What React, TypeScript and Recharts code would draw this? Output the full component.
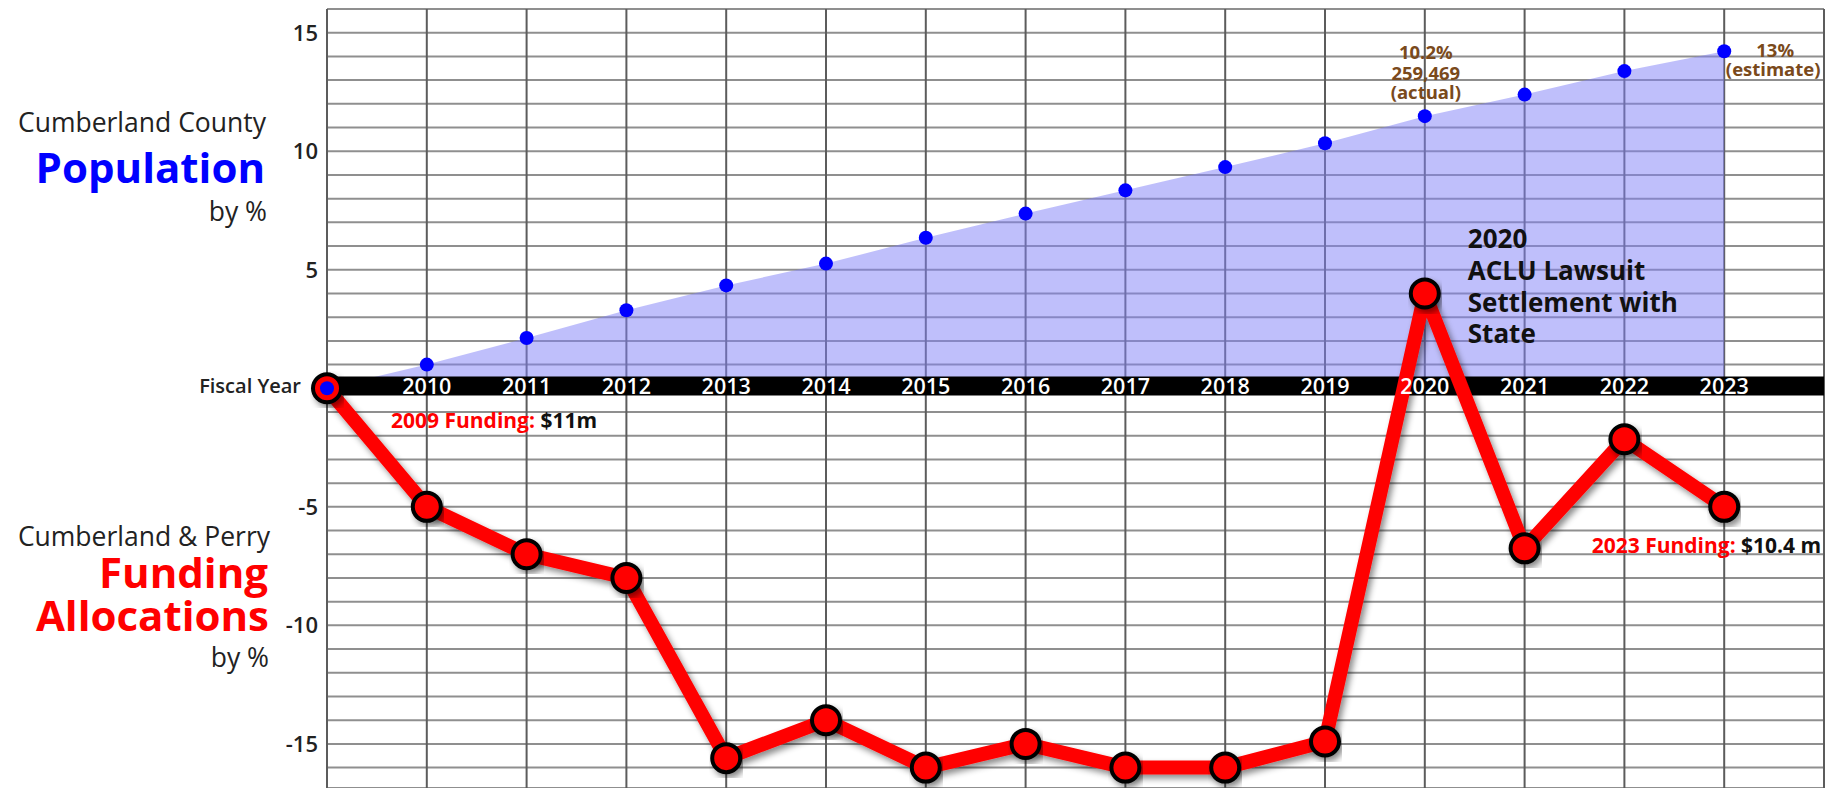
import React from "react";
import {
  Area,
  CartesianGrid,
  ComposedChart,
  Line,
  ReferenceArea,
  ReferenceDot,
  ReferenceLine,
  XAxis,
  YAxis,
} from "recharts";

// values
const years = [2009, 2010, 2011, 2012, 2013, 2014, 2015, 2016, 2017, 2018, 2019, 2020, 2021, 2022, 2023];
const population = [0, 1.0, 2.12, 3.29, 4.34, 5.26, 6.35, 7.37, 8.35, 9.33, 10.34, 11.48, 12.39, 13.38, 14.22];
const funding = [0, -5, -7, -8, -15.6, -14, -16, -15, -16, -16, -14.9, 4, -6.75, -2.15, -5];
const yearLabels = ["Fiscal Year", "2010", "2011", "2012", "2013", "2014", "2015", "2016", "2017", "2018", "2019", "2020", "2021", "2022", "2023"];

const xGridTicks = [2009, 2010, 2011, 2012, 2013, 2014, 2015, 2016, 2017, 2018, 2019, 2020, 2021, 2022, 2023, 2024];
const yGridTicks = [-16, -15, -14, -13, -12, -11, -10, -9, -8, -7, -6, -5, -4, -3, -2, -1, 0, 1, 2, 3, 4, 5, 6, 7, 8, 9, 10, 11, 12, 13, 14, 15];
const yLabelTicks = [-15, -10, -5, 5, 10, 15];

const popActualNote = ["10.2%", "259,469", "(actual)"];
const popEstimateNote = ["13%", "(estimate)"];
const settlementNote = ["2020", "ACLU Lawsuit", "Settlement with", "State"];

const FONT = "'Open Sans', 'Noto Sans', sans-serif";
const BROWN = "#7a4a1c";
const RED = "#ff0000";

const data = years.map((year, i) => ({
  year,
  population: population[i],
  funding: funding[i],
  axis: 0,
  label: yearLabels[i],
}));

const renderYTick = (props: any) => {
  const { x, y, payload } = props;
  if (!yLabelTicks.includes(payload.value)) return <g />;
  return (
    <text x={x} y={y + 8} textAnchor="end" fontFamily={FONT} fontWeight={600} fontSize={22} fill="#222">
      {payload.value}
    </text>
  );
};

const renderYearLabel = (props: any) => {
  const { cx, cy, index, payload } = props;
  if (index === 0) {
    return (
      <text key="fy" x={cx - 26} y={cy + 5} textAnchor="end" fontFamily={FONT} fontWeight={600} fontSize={20} fill="#222">
        {payload.label}
      </text>
    );
  }
  return (
    <text key={payload.year} x={cx} y={cy + 6} textAnchor="middle" fontFamily={FONT} fontWeight={600} fontSize={21.5} fill="#fff">
      {payload.label}
    </text>
  );
};

const noteLines =
  (lines: string[], dx: number, dys: number[], anchor: string, size: number, color: string, dxs?: number[]) =>
  (props: any) => {
    const vb = props.viewBox || {};
    return (
      <g>
        {lines.map((t, i) => (
          <text
            key={t}
            x={vb.x + (dxs ? dxs[i] : dx)}
            y={vb.y + dys[i]}
            textAnchor={anchor as any}
            fontFamily={FONT}
            fontWeight={700}
            fontSize={size}
            fill={color}
          >
            {t}
          </text>
        ))}
      </g>
    );
  };

const fundingNote = (year: string, amount: string, dx: number, dy: number, anchor: string) => (props: any) => {
  const vb = props.viewBox || {};
  return (
    <text x={vb.x + dx} y={vb.y + dy} textAnchor={anchor as any} fontFamily={FONT} fontWeight={700} fontSize={21}>
      <tspan fill={RED}>{year} Funding:</tspan>
      <tspan fill="#111"> {amount}</tspan>
    </text>
  );
};

const titleStyle = { fontFamily: FONT } as const;

export default function App() {
  return (
    <div style={{ position: "fixed", left: 0, top: 0, width: 1837, height: 788, background: "#fff" }}>
      <ComposedChart width={1837} height={788} data={data} margin={{ top: 9, right: 13, bottom: 0, left: 0 }}>
        <defs>
          <filter id="lineShadow" x="-10%" y="-10%" width="120%" height="130%">
            <feDropShadow dx="3" dy="4" stdDeviation="3" floodColor="#000" floodOpacity="0.45" />
          </filter>
        </defs>
        <CartesianGrid vertical={false} stroke="#8f8f8f" strokeWidth={2} />
        <XAxis
          dataKey="year"
          type="number"
          domain={[2009, 2024]}
          ticks={xGridTicks}
          interval={0}
          tick={false}
          tickLine={false}
          axisLine={false}
          height={0}
        />
        <YAxis
          type="number"
          domain={[-16.86, 16]}
          allowDataOverflow
          ticks={yGridTicks}
          interval={0}
          width={327}
          axisLine={false}
          tickLine={false}
          tickMargin={3}
          tick={renderYTick}
        />
        {xGridTicks.map((t) => (
          <ReferenceLine key={t} x={t} stroke="#5c5c5c" strokeWidth={2} ifOverflow="visible" zIndex={50} />
        ))}
        <Area
          type="linear"
          dataKey="population"
          stroke="none"
          fill="#7f7ff7"
          fillOpacity={0.5}
          baseValue={0}
          dot={false}
          activeDot={false}
          isAnimationActive={false}
          zIndex={100}
        />
        <ReferenceArea x1={2009} x2={2024} y1={-0.3} y2={0.5} fill="#000" fillOpacity={1} stroke="none" ifOverflow="visible" zIndex={150} />
        <Line
          dataKey="axis"
          stroke="none"
          dot={renderYearLabel}
          activeDot={false}
          isAnimationActive={false}
          zIndex={160}
        />
        <Line
          type="linear"
          dataKey="funding"
          stroke={RED}
          strokeWidth={14}
          strokeLinejoin="round"
          filter="url(#lineShadow)"
          dot={{ r: 14, fill: RED, stroke: "#000", strokeWidth: 4 }}
          activeDot={false}
          isAnimationActive={false}
          zIndex={400}
        />
        <Line
          dataKey="population"
          stroke="none"
          dot={{ r: 7, fill: "#0000ff", stroke: "none" }}
          activeDot={false}
          isAnimationActive={false}
          zIndex={600}
        />
        <ReferenceDot
          x={years[0]}
          y={funding[0]}
          r={0}
          fill="none"
          stroke="none"
          ifOverflow="visible"
          label={{ content: fundingNote("2009", "$11m", 64, 40, "start") }}
        />
        <ReferenceDot
          x={years[14]}
          y={funding[14]}
          r={0}
          fill="none"
          stroke="none"
          ifOverflow="visible"
          label={{ content: fundingNote("2023", "$10.4 m", 97, 46.5, "end") }}
        />
        <ReferenceDot
          x={years[11]}
          y={population[11]}
          r={0}
          fill="none"
          stroke="none"
          ifOverflow="visible"
          label={{ content: noteLines(popActualNote, 1, [-57.4, -36.4, -17.4], "middle", 18.5, BROWN) }}
        />
        <ReferenceDot
          x={years[14]}
          y={population[14]}
          r={0}
          fill="none"
          stroke="none"
          ifOverflow="visible"
          label={{ content: noteLines(popEstimateNote, 50, [6, 25], "middle", 18.5, BROWN, [51, 49]) }}
        />
        <ReferenceDot
          x={years[11]}
          y={funding[11]}
          r={0}
          fill="none"
          stroke="none"
          ifOverflow="visible"
          label={{ content: noteLines(settlementNote, 43, [-45, -13, 19, 50], "start", 26, "#111") }}
        />
      </ComposedChart>
      <svg width={1837} height={788} style={{ position: "absolute", left: 0, top: 0, pointerEvents: "none" }}>
        <g style={titleStyle} textAnchor="end">
          <text x={266} y={132} fontSize={26.5} fill="#222">Cumberland County</text>
          <text x={265} y={183} fontSize={42} fontWeight={700} fill="#0000ff">Population</text>
          <text x={267} y={221} fontSize={26.5} fill="#222">by %</text>
          <text x={270} y={546} fontSize={26.5} fill="#222">Cumberland &amp; Perry</text>
          <text x={268} y={588} fontSize={42} fontWeight={700} fill={RED}>Funding</text>
          <text x={269} y={631} fontSize={42} fontWeight={700} fill={RED}>Allocations</text>
          <text x={269} y={667} fontSize={26.5} fill="#222">by %</text>
        </g>
      </svg>
    </div>
  );
}
